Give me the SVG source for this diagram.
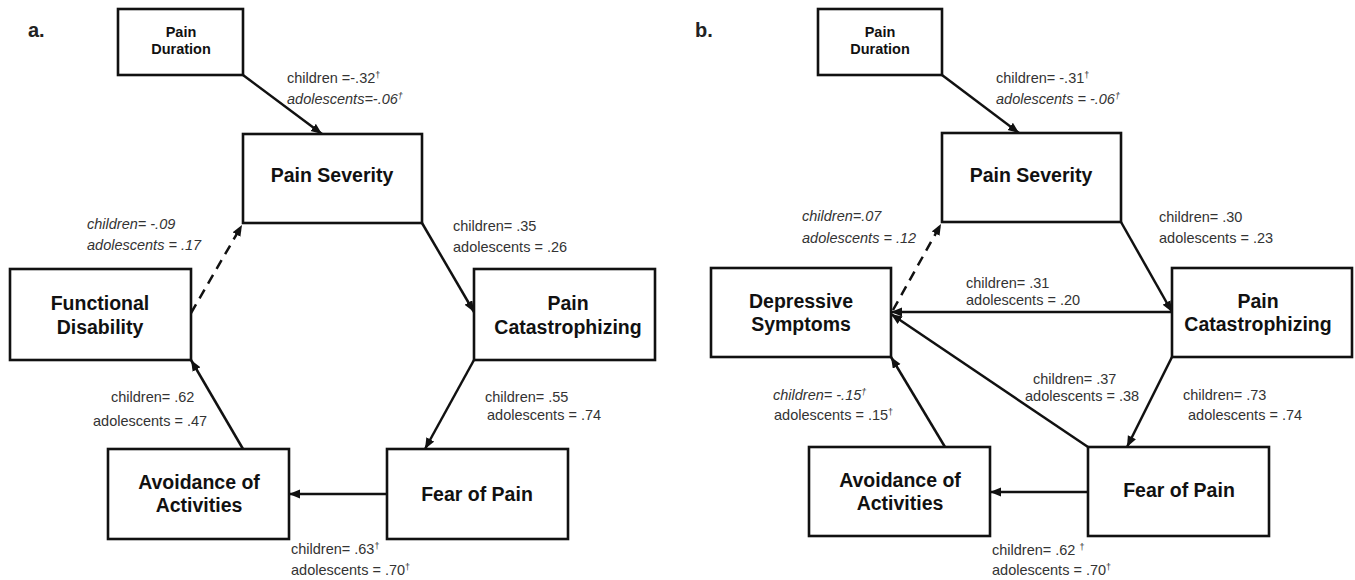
<svg xmlns="http://www.w3.org/2000/svg" width="1355" height="580" viewBox="0 0 1355 580">
<style>
.box{fill:#fff;stroke:#111;stroke-width:2.6}
.nt{font-family:"Liberation Sans",Arial,sans-serif;font-weight:bold;font-size:19.5px;fill:#111;text-anchor:middle}
.st{font-family:"Liberation Sans",Arial,sans-serif;font-weight:bold;font-size:14.5px;fill:#111;text-anchor:middle}
.lb{font-family:"Liberation Sans",Arial,sans-serif;font-size:14.5px;fill:#333}
.it{font-style:italic}
.pl{font-family:"Liberation Sans",Arial,sans-serif;font-weight:bold;font-size:20px;fill:#222}
.ln{fill:none;stroke:#111;stroke-width:2.5;marker-end:url(#ah)}
.ds{stroke-dasharray:10,7}
</style>
<defs>
<marker id="ah" markerUnits="userSpaceOnUse" markerWidth="12" markerHeight="10" refX="11" refY="4.5" orient="auto">
<path d="M0,0 L11,4.5 L0,9 Z" fill="#111"/>
</marker>
</defs>
<text class="pl" x="28" y="37">a.</text>
<text class="pl" x="695" y="37">b.</text>
<g id="connectors">
<path class="ln" d="M243,75 L322,134"/>
<path class="ln" d="M422,223 L474,312"/>
<path class="ln" d="M474,360 L425,449"/>
<path class="ln" d="M387,494 L289,494"/>
<path class="ln" d="M243,449 L191,360"/>
<path class="ln ds" d="M191,313 L242,225"/>
<path class="ln" d="M942,75 L1019,133"/>
<path class="ln" d="M1121,222 L1172,312"/>
<path class="ln" d="M1172,312 L891,312"/>
<path class="ln" d="M1172,357 L1127,447"/>
<path class="ln" d="M1088,492 L990,492"/>
<path class="ln" d="M1088,447 L891,314"/>
<path class="ln" d="M945,447 L891,357"/>
<path class="ln ds" d="M893,310 L941,224"/>
</g>
<g id="a-pain-duration"><rect class="box" x="118" y="9" width="125" height="66"/><text class="st" x="181" y="37">Pain</text><text class="st" x="181" y="54">Duration</text></g>
<g id="a-pain-severity"><rect class="box" x="243" y="134" width="179" height="89"/><text class="nt" x="332" y="182">Pain Severity</text></g>
<g id="a-functional-disability"><rect class="box" x="10" y="269" width="181" height="91"/><text class="nt" x="100" y="310">Functional</text><text class="nt" x="100" y="334">Disability</text></g>
<g id="a-pain-catastrophizing"><rect class="box" x="474" y="269" width="181" height="91"/><text class="nt" x="568" y="310">Pain</text><text class="nt" x="568" y="334">Catastrophizing</text></g>
<g id="a-avoidance"><rect class="box" x="108" y="449" width="181" height="90"/><text class="nt" x="199" y="489">Avoidance of</text><text class="nt" x="199" y="512">Activities</text></g>
<g id="a-fear"><rect class="box" x="387" y="449" width="181" height="90"/><text class="nt" x="477" y="501">Fear of Pain</text></g>
<g id="b-pain-duration"><rect class="box" x="818" y="9" width="124" height="66"/><text class="st" x="880" y="37">Pain</text><text class="st" x="880" y="54">Duration</text></g>
<g id="b-pain-severity"><rect class="box" x="942" y="133" width="179" height="89"/><text class="nt" x="1031" y="182">Pain Severity</text></g>
<g id="b-depressive"><rect class="box" x="711" y="268" width="180" height="89"/><text class="nt" x="801" y="308">Depressive</text><text class="nt" x="801" y="331">Symptoms</text></g>
<g id="b-pain-catastrophizing"><rect class="box" x="1172" y="268" width="180" height="89"/><text class="nt" x="1258" y="308">Pain</text><text class="nt" x="1258" y="331">Catastrophizing</text></g>
<g id="b-avoidance"><rect class="box" x="809" y="447" width="181" height="89"/><text class="nt" x="900" y="487">Avoidance of</text><text class="nt" x="900" y="510">Activities</text></g>
<g id="b-fear"><rect class="box" x="1088" y="447" width="181" height="89"/><text class="nt" x="1179" y="497">Fear of Pain</text></g>
<g id="labels">
<text class="lb" x="287" y="83">children =-.32<tspan font-size="9" dy="-5">†</tspan></text>
<text class="lb it" x="287" y="104">adolescents=-.06<tspan font-size="9" dy="-5">†</tspan></text>
<text class="lb it" x="87" y="229">children= -.09</text>
<text class="lb it" x="87" y="250">adolescents = .17</text>
<text class="lb" x="453" y="231">children= .35</text>
<text class="lb" x="453" y="252">adolescents = .26</text>
<text class="lb" x="485" y="402">children= .55</text>
<text class="lb" x="487" y="420">adolescents = .74</text>
<text class="lb" x="111" y="402">children= .62</text>
<text class="lb" x="93" y="426">adolescents = .47</text>
<text class="lb" x="291" y="554">children= .63<tspan font-size="9" dy="-5">†</tspan></text>
<text class="lb" x="291" y="575">adolescents = .70<tspan font-size="9" dy="-5">†</tspan></text>
<text class="lb" x="996" y="83">children= -.31<tspan font-size="9" dy="-5">†</tspan></text>
<text class="lb it" x="996" y="104">adolescents = -.06<tspan font-size="9" dy="-5">†</tspan></text>
<text class="lb it" x="802" y="221">children=.07</text>
<text class="lb it" x="802" y="243">adolescents = .12</text>
<text class="lb" x="1159" y="222">children= .30</text>
<text class="lb" x="1159" y="243">adolescents = .23</text>
<text class="lb" x="966" y="288">children= .31</text>
<text class="lb" x="966" y="305">adolescents = .20</text>
<text class="lb" x="1033" y="384">children= .37</text>
<text class="lb" x="1025" y="401">adolescents = .38</text>
<text class="lb" x="1183" y="400">children= .73</text>
<text class="lb" x="1188" y="420">adolescents = .74</text>
<text class="lb it" x="773" y="400">children= -.15<tspan font-size="9" dy="-5">†</tspan></text>
<text class="lb" x="774" y="420">adolescents = .15<tspan font-size="9" dy="-5">†</tspan></text>
<text class="lb" x="992" y="555">children= .62 <tspan font-size="9" dy="-5">†</tspan></text>
<text class="lb" x="992" y="575">adolescents = .70<tspan font-size="9" dy="-5">†</tspan></text>
</g>
</svg>
